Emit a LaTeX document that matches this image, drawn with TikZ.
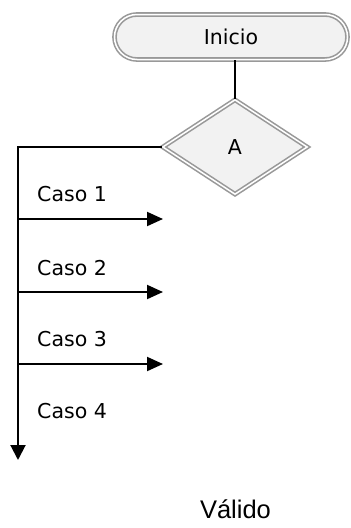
\documentclass[tikz,border=0pt]{standalone}
\usepackage{fontspec}
\setmainfont{DejaVu Sans}
\newfontfamily\validfont{Liberation Sans}
\usetikzlibrary{arrows.meta,shapes.geometric,shapes.misc}
\definecolor{boxgray}{HTML}{999999}
\definecolor{boxfill}{HTML}{F2F2F2}
\tikzset{
    terminal/.style = {
        rounded rectangle,
        draw = boxgray,
        double = white,
        double distance = 1.5pt,
        line width = 1.6pt,
        fill = boxfill,
        minimum width = 233pt,
        minimum height = 45pt,
        inner sep = 0pt,
        font = \fontsize{20.5}{24}\selectfont,
        },
    decision/.style = {
        diamond,
        draw = boxgray,
        double = white,
        double distance = 1.5pt,
        line width = 1.6pt,
        fill = boxfill,
        minimum width = 145pt,
        minimum height = 95pt,
        inner sep = 0pt,
        font = \fontsize{20.5}{24}\selectfont,
        },
    case label/.style = {
        anchor = base west,
        inner sep = 0pt,
        font = \fontsize{20.5}{24}\selectfont,
        },
    flow/.style = {
        draw,
        line width = 2pt,
        },
    case arrow/.style = {
        flow,
        -{Triangle[length=16pt,width=14pt]},
        },
}

\begin{document}
\begin{tikzpicture}[x=1pt, y=-1pt]
            \useasboundingbox (0,0) rectangle (351,528);

            \node[terminal] (inicio) at (231,37) {Inicio};
            \node[decision] (A) at (235,147) {A};

            \coordinate (top) at (18,147);
            \coordinate (bot) at (18,460);
            \coordinate (c1) at (18,219);
            \coordinate (c2) at (18,292);
            \coordinate (c3) at (18,364);
            \coordinate (e1) at (163,219);
            \coordinate (e2) at (163,292);
            \coordinate (e3) at (163,364);

            \node[case label] (l1) at (37,201) {Caso 1};
            \node[case label] (l2) at (37,275) {Caso 2};
            \node[case label] (l3) at (37,346) {Caso 3};
            \node[case label] (l4) at (37,418) {Caso 4};
            \node[anchor=base, inner sep=0pt, font=\validfont\fontsize{25.5}{30}\selectfont] (valido) at (235.5,518) {Válido};

            \path[flow] (A.north |- inicio.south) -- (A.north);
            \path[flow, -{Triangle[length=15pt,width=15pt]}] (A.west) -- (top) -- (bot);
            \path[case arrow] (c1) -- (e1);
            \path[case arrow] (c2) -- (e2);
            \path[case arrow] (c3) -- (e3);
        \end{tikzpicture}
\end{document}
